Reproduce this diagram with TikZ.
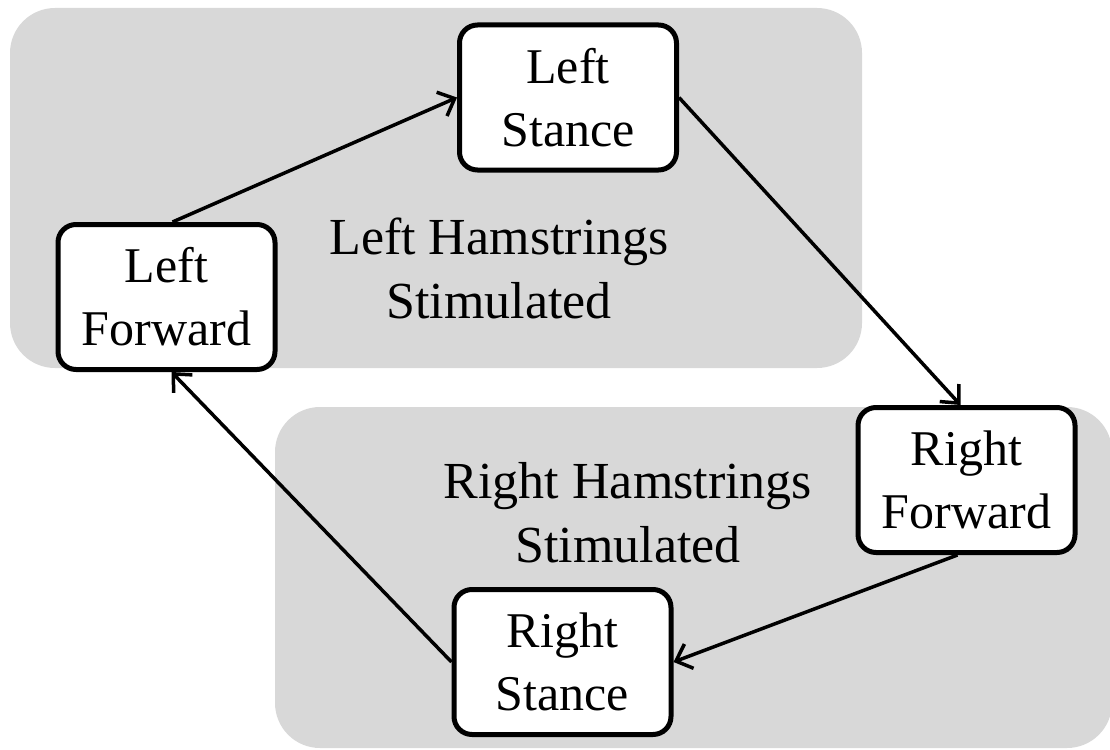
\documentclass[tikz,border=0pt]{standalone}
\usepackage{fontspec}
\setmainfont{Liberation Serif}
\usetikzlibrary{arrows.meta}
\definecolor{zonegray}{RGB}{216,216,216}
\begin{document}
\begin{tikzpicture}[x=1pt,y=-1pt,
  zone/.style={fill=zonegray, draw=none, rounded corners=45pt},
  phase/.style={draw=black, line width=5pt, fill=white, rounded corners=18pt,
    minimum width=217pt, minimum height=145pt, inner sep=0pt, align=center,
    font=\fontsize{50}{63}\selectfont},
  zonelabel/.style={align=center, inner sep=0pt, font=\fontsize{52}{64}\selectfont},
  flow/.style={line width=3.5pt, -{Straight Barb[length=14pt,width=26pt,line width=3.5pt]}}
]
\useasboundingbox (0,0) rectangle (1110,749);

% shaded zones for the two stimulation phases
\fill[zone] (10,8) rectangle (862,368);
\fill[zone] (275,407) rectangle (1112,748);

\node[zonelabel] (lzone) at (499,268.5) {Left Hamstrings\\Stimulated};
\node[zonelabel] (rzone) at (628,512.5) {Right Hamstrings\\Stimulated};

% gait phases
\node[phase] (ls) at (568,97.5) {Left\\Stance};
\node[phase] (lf) at (166.5,297) {Left\\Forward};
\node[phase] (rf) at (966.5,480) {Right\\Forward};
\node[phase] (rs) at (562.5,662) {Right\\Stance};

% cycle
\draw[flow] ([xshift=6pt]lf.north) -- (ls.west);
\draw[flow] (ls.east) -- ([xshift=-6pt]rf.north);
\draw[flow] ([xshift=-9pt]rf.south) -- (rs.east);
\draw[flow] (rs.west) -- ([xshift=5pt]lf.south);
\end{tikzpicture}
\end{document}
